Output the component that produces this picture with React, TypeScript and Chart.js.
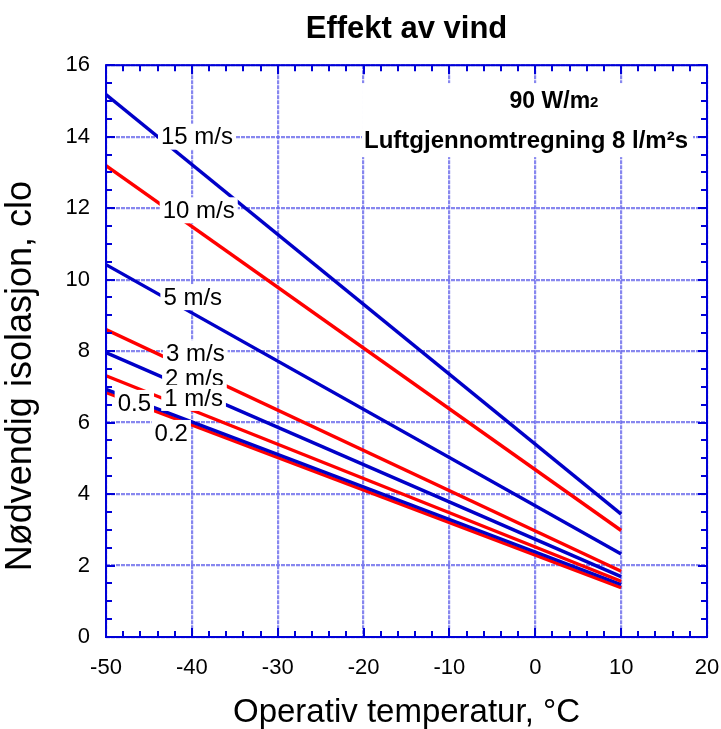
import { useEffect, useRef } from "react";
import { Chart, registerables } from "chart.js";

Chart.register(...registerables);

const FONT = '"Liberation Sans", Arial, Helvetica, sans-serif';
const BLUE = "#0000c8";
const RED = "#ff0000";
const AXIS = "#0000d8";
const GRID = "rgba(105, 105, 235, 0.8)";

// Operative temperature (°C) at the two ends of every line
const temperatures = [-50, 10];

// Required insulation (clo) for each wind speed
const clo15 = [15.18, 3.44];
const clo10 = [13.19, 2.98];
const clo5 = [10.42, 2.32];
const clo3 = [8.6, 1.84];
const clo2 = [7.96, 1.69];
const clo1 = [7.31, 1.56];
const clo05 = [6.93, 1.47];
const clo02 = [6.84, 1.38];

const seriesValues = [clo15, clo10, clo5, clo3, clo2, clo1, clo05, clo02];
const seriesNames = ["15 m/s", "10 m/s", "5 m/s", "3 m/s", "2 m/s", "1 m/s", "0.5", "0.2"];
const seriesColors = [BLUE, RED, BLUE, RED, BLUE, RED, BLUE, RED];

// Inline label anchors (data coordinates)
const labelX = [-39.4, -39.2, -39.9, -39.6, -39.7, -39.8, -46.7, -42.4];
const labelY = [14.0, 11.94, 9.51, 7.94, 7.24, 6.69, 6.55, 5.71];

// Axis ticks
const xTicks = [-50, -40, -30, -20, -10, 0, 10, 20];
const yTicks = [0, 2, 4, 6, 8, 10, 12, 14, 16];

// Axis titles
const xTitle = "Operativ temperatur, °C";
const yTitle = "Nødvendig isolasjon, clo";
const yTitleCenter = 7.3; // data value at which the y title is centred

// Annotation texts and anchors (data coordinates: centre x, baseline y)
const noteLine1 = "90 W/m";
const noteLine1Sub = "2";
const noteLine2 = "Luftgjennomtregning 8 l/m²s";
const noteAnchorX = [2.18, -1.08];
const noteAnchorY = [14.8, 13.68];

const decorPlugin = {
  id: "decor",
  afterDatasetsDraw(chart: any) {
    const { ctx, chartArea: a, scales } = chart;
    const x = scales.x;
    const y = scales.y;
    ctx.save();

    // inline line labels with white boxes
    ctx.font = `24px ${FONT}`;
    ctx.textAlign = "center";
    ctx.textBaseline = "middle";
    seriesNames.forEach((t, i) => {
      const px = x.getPixelForValue(labelX[i]);
      const py = y.getPixelForValue(labelY[i]);
      const w = ctx.measureText(t).width + 6;
      const h = 26;
      ctx.fillStyle = "#ffffff";
      ctx.fillRect(px - w / 2, py - h / 2, w, h);
      ctx.fillStyle = "#000000";
      ctx.fillText(t, px, py + 1);
    });

    // annotation
    ctx.textAlign = "left";
    ctx.textBaseline = "alphabetic";
    ctx.font = `bold 23px ${FONT}`;
    const w1 = ctx.measureText(noteLine1).width;
    ctx.font = `bold 15px ${FONT}`;
    const w1s = ctx.measureText(noteLine1Sub).width;
    ctx.font = `bold 24px ${FONT}`;
    const w2 = ctx.measureText(noteLine2).width;
    const c1 = x.getPixelForValue(noteAnchorX[0]);
    const b1 = y.getPixelForValue(noteAnchorY[0]);
    const c2 = x.getPixelForValue(noteAnchorX[1]);
    const b2 = y.getPixelForValue(noteAnchorY[1]);
    const l1 = c1 - (w1 + w1s) / 2;
    const l2 = c2 - w2 / 2;
    const boxL = Math.min(l1, l2) - 2;
    const boxR = Math.max(l1 + w1 + w1s, l2 + w2) + 5;
    const boxT = b1 - 25;
    const boxB = b2 + 9;
    ctx.fillStyle = "#ffffff";
    ctx.fillRect(boxL, boxT, boxR - boxL, boxB - boxT);
    ctx.fillStyle = "#000000";
    ctx.font = `bold 23px ${FONT}`;
    ctx.fillText(noteLine1, l1, b1);
    ctx.font = `bold 24px ${FONT}`;
    ctx.fillText(noteLine2, l2, b2);
    ctx.font = `bold 15px ${FONT}`;
    ctx.fillText(noteLine1Sub, l1 + w1, b1 - 1);

    // frame
    ctx.strokeStyle = AXIS;
    ctx.lineWidth = 2;
    ctx.strokeRect(a.left, a.top, a.right - a.left, a.bottom - a.top);

    // inward ticks on all four sides
    ctx.beginPath();
    for (let k = 0; k <= 35; k++) {
      const v = -50 + k * 2;
      const len = k % 5 === 0 ? 9 : 6;
      const px = Math.round(x.getPixelForValue(v));
      ctx.moveTo(px, a.bottom);
      ctx.lineTo(px, a.bottom - len);
      ctx.moveTo(px, a.top);
      ctx.lineTo(px, a.top + len);
    }
    for (let k = 0; k <= 32; k++) {
      const v = k * 0.5;
      const len = k % 4 === 0 ? 9 : 6;
      const py = Math.round(y.getPixelForValue(v));
      ctx.moveTo(a.left, py);
      ctx.lineTo(a.left + len, py);
      ctx.moveTo(a.right, py);
      ctx.lineTo(a.right - len, py);
    }
    ctx.stroke();

    // y axis title
    ctx.save();
    ctx.translate(21, y.getPixelForValue(yTitleCenter));
    ctx.rotate(-Math.PI / 2);
    ctx.font = `36px ${FONT}`;
    ctx.fillStyle = "#000";
    ctx.textAlign = "center";
    ctx.textBaseline = "middle";
    ctx.fillText(yTitle, 0, 0);
    ctx.restore();

    ctx.restore();
  },
};

export default function App() {
  const canvasRef = useRef<HTMLCanvasElement | null>(null);

  useEffect(() => {
    if (!canvasRef.current) return;
    const datasets = seriesValues.map((vals, i) => ({
      label: seriesNames[i],
      data: temperatures.map((t, j) => ({ x: t, y: vals[j] })),
      borderColor: seriesColors[i],
      backgroundColor: seriesColors[i],
      borderWidth: 3.4,
      pointRadius: 0,
      tension: 0,
      fill: false,
    }));

    const chart = new Chart(canvasRef.current, {
      type: "line",
      data: { datasets },
      plugins: [decorPlugin],
      options: {
        animation: false,
        responsive: false,
        devicePixelRatio: 1,
        layout: { padding: { left: 0, right: 14, top: 0, bottom: 0 } },
        plugins: {
          legend: { display: false },
          tooltip: { enabled: false },
          title: {
            display: true,
            text: "Effekt av vind",
            fullSize: false,
            color: "#000",
            font: { family: FONT, size: 31, weight: "bold" },
            padding: { top: 11, bottom: 17 },
          },
        },
        scales: {
          x: {
            type: "linear",
            min: -50,
            max: 20,
            afterBuildTicks: (scale: any) => {
              scale.ticks = xTicks.map((v) => ({ value: v }));
            },
            afterFit: (scale: any) => {
              scale.height = 92;
              scale.paddingRight = 0;
              scale.paddingLeft = 0;
            },
            ticks: {
              color: "#000",
              font: { family: FONT, size: 22 },
              padding: 18,
              maxRotation: 0,
              autoSkip: false,
            },
            grid: { color: GRID, lineWidth: 2.2, drawTicks: false },
            border: { display: false, dash: [4, 1] },
            title: {
              display: true,
              text: xTitle,
              color: "#000",
              font: { family: FONT, size: 33, lineHeight: 1 },
              padding: { top: 0, bottom: 0 },
            },
          },
          y: {
            type: "linear",
            min: 0,
            max: 16,
            afterBuildTicks: (scale: any) => {
              scale.ticks = yTicks.map((v) => ({ value: v }));
            },
            afterFit: (scale: any) => {
              scale.width = 106;
            },
            ticks: {
              color: "#000",
              font: { family: FONT, size: 22 },
              padding: 16,
              autoSkip: false,
            },
            grid: { color: GRID, lineWidth: 2.2, drawTicks: false },
            border: { display: false, dash: [4, 1] },
          },
        },
      },
    } as any);

    return () => chart.destroy();
  }, []);

  return (
    <div style={{ position: "fixed", left: 0, top: 0, width: 721, height: 729, background: "#fff" }}>
      <canvas ref={canvasRef} width={721} height={729} />
    </div>
  );
}
